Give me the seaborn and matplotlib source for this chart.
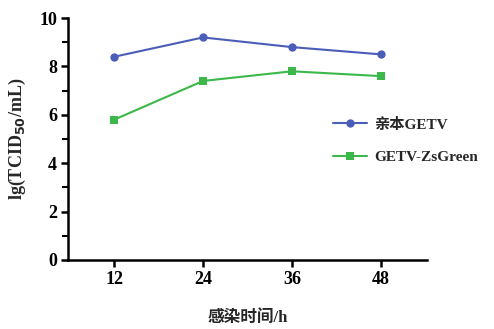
import numpy as np
import pandas as pd
import matplotlib
matplotlib.use("Agg")
import matplotlib.pyplot as plt
from matplotlib.ticker import MultipleLocator
import seaborn as sns

hours = [12, 24, 36, 48]
parent_getv = [8.4, 9.2, 8.8, 8.5]
getv_zsgreen = [5.8, 7.4, 7.8, 7.6]
series_names = ["亲本GETV", "GETV-ZsGreen"]

sns.set_theme(style="ticks")
plt.rcParams["font.family"] = ["Liberation Serif", "Noto Sans CJK SC"]
plt.rcParams["font.weight"] = "bold"

df = pd.DataFrame({
    "h": hours * 2,
    "val": parent_getv + getv_zsgreen,
    "grp": [series_names[0]] * 4 + [series_names[1]] * 4,
})

fig = plt.figure(figsize=(4.94, 3.29), dpi=100)
ax = fig.add_axes([0.138, 0.21, 0.726, 0.735])

sns.lineplot(data=df, x="h", y="val", hue="grp", style="grp",
             palette=["#4a5db8", "#3cb84a"], markers=["o", "s"], dashes=False,
             markersize=6, linewidth=1.5, markeredgewidth=0, ax=ax)

ax.set_xlim(5.8, 54.2)
ax.set_ylim(0, 10)
ax.set_xticks(hours)
ax.yaxis.set_major_locator(MultipleLocator(2))
ax.yaxis.set_minor_locator(MultipleLocator(1))
for s in ["top", "right"]:
    ax.spines[s].set_visible(False)
for s in ["left", "bottom"]:
    ax.spines[s].set_linewidth(1.8)
    ax.spines[s].set_color("black")
ax.tick_params(which="major", length=5, width=1.8, labelsize=13, colors="black", pad=3)
ax.tick_params(which="minor", length=4, width=1.5, colors="black")
ax.set_xlabel("感染时间/h", fontsize=12, fontweight="bold", labelpad=16)
ax.set_ylabel("lg(TCID$_{50}$/mL)", fontsize=13, fontweight="bold", labelpad=8)
for lab in ax.get_xticklabels() + ax.get_yticklabels():
    lab.set_fontweight("bold")

leg = ax.legend(loc="upper left", bbox_to_anchor=(0.7, 0.645), frameon=False,
                fontsize=11, handlelength=2.2, labelspacing=1.25, handletextpad=0.5)
for t in leg.get_texts():
    t.set_fontweight("bold")

fig.savefig("out.png", dpi=100)
